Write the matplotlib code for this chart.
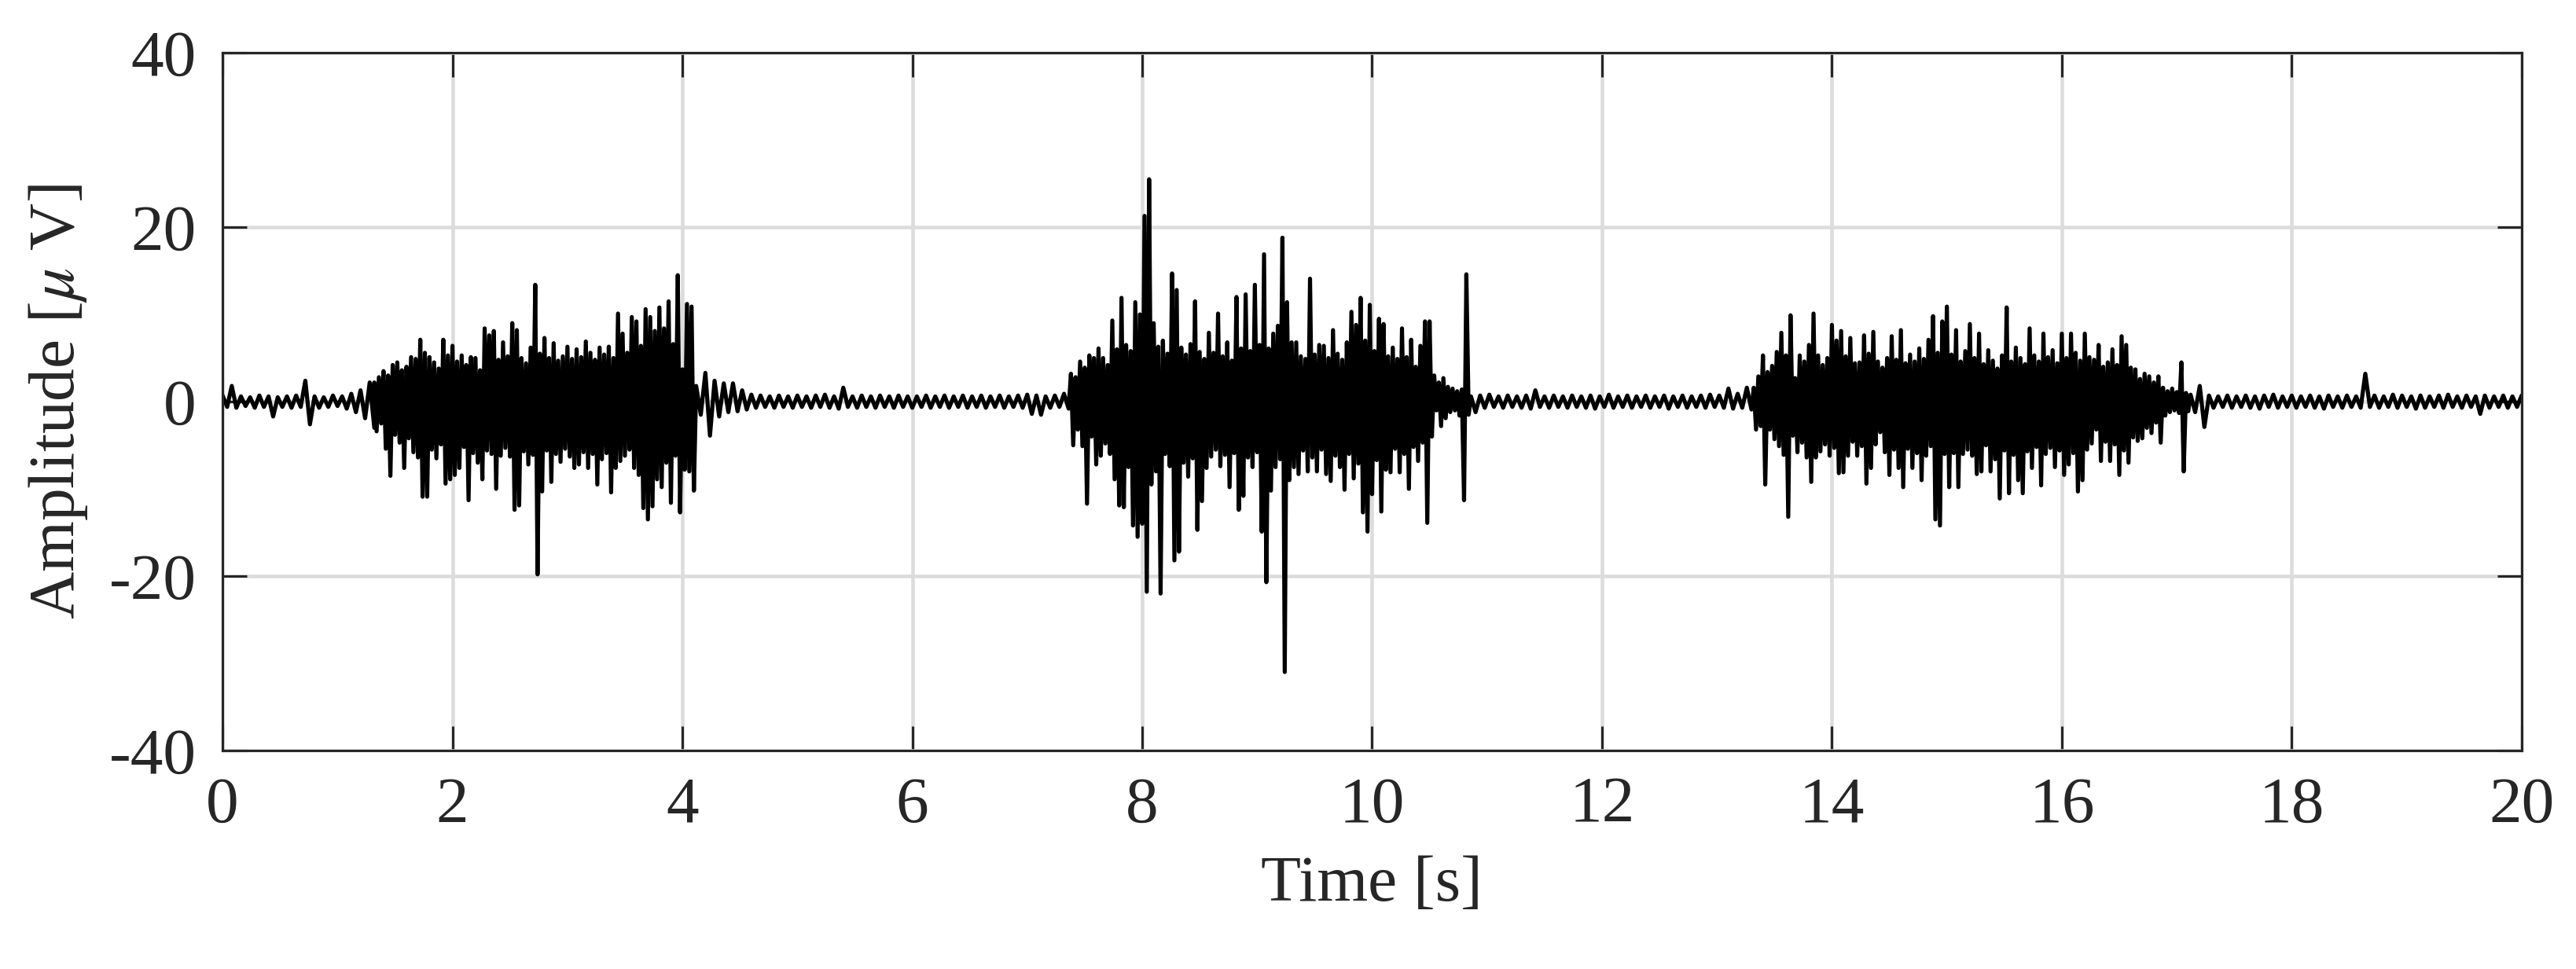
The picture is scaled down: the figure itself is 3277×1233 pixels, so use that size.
import numpy as np
import matplotlib
matplotlib.use('Agg')
from matplotlib import pyplot as plt

# Each segment: start time [s], sample step [s], upper peaks, lower peaks

# quiet 0 - 1.3 s
rest1_hi = [0.7, 1.8, 0.6, 0.5, 0.7, 0.6, 0.5, 0.6, 0.7, 2.4, 0.6, 0.5, 0.7, 0.6, 0.9, 1.3, 2.2]
rest1_lo = [-0.6, -0.7, -0.5, -0.7, -0.6, -1.7, -0.6, -0.7, -0.6, -2.6, -0.7, -0.6, -0.5, -0.8, -1.2, -1.9, -3.0]

# burst 1 (1.3 - 4.1 s)
burst1_hi = [2.2, 2.8, 3.5, 3.0, 4.2, 4.5, 3.6, 4.0, 5.1, 4.9, 7.1, 5.6, 5.1, 4.5, 3.8, 7.1, 5.3, 6.4,
             4.6, 5.3, 4.2, 5.1, 5.0, 3.6, 8.4, 7.6, 8.1, 4.8, 6.8, 5.2, 9.0, 8.2, 5.0, 4.4, 6.2, 13.4,
             5.5, 7.3, 5.0, 6.7, 4.7, 5.2, 6.3, 4.9, 6.0, 5.1, 6.9, 5.6, 4.8, 6.2, 5.4, 6.3, 5.0, 10.1,
             7.8, 5.6, 9.7, 9.2, 6.4, 10.6, 9.7, 8.1, 10.8, 8.4, 11.5, 6.6, 14.5, 3.7, 11.2, 10.9]
burst1_lo = [-3.4, -2.5, -5.4, -8.5, -3.8, -4.7, -7.6, -4.2, -5.8, -6.4, -10.9, -10.9, -5.5, -6.5, -4.9,
             -9.4, -8.9, -8.4, -7.6, -5.2, -11.3, -5.9, -7.0, -8.9, -5.6, -6.0, -10.0, -6.2, -5.3, -6.3,
             -12.4, -11.9, -5.7, -7.2, -6.1, -19.8, -10.3, -5.6, -9.2, -6.0, -6.9, -5.4, -6.3, -7.6, -7.2,
             -5.8, -7.6, -6.0, -9.5, -6.6, -5.9, -10.4, -7.6, -6.8, -6.2, -5.5, -7.6, -8.4, -12.2, -13.5,
             -12.0, -8.9, -9.8, -7.0, -11.6, -6.2, -12.7, -7.8, -8.0, -10.2]

# quiet 4.1 - 7.36 s
rest2_hi = [1.8, 3.3, 2.4, 2.1, 2.1, 1.3, 0.8, 0.7, 0.6, 0.7, 0.6, 0.7, 0.6, 0.7, 0.8, 0.6, 1.6, 0.6,
            0.7, 0.6, 0.7, 0.6, 0.7, 0.6, 0.6, 0.7, 0.6, 0.7, 0.6, 0.7, 0.6, 0.7, 0.6, 0.7, 0.6, 0.7,
            0.8, 0.7, 0.6, 0.7, 0.9]
rest2_lo = [-1.5, -3.9, -1.7, -1.2, -1.1, -0.9, -0.7, -0.6, -0.7, -0.6, -0.7, -0.6, -0.7, -0.6, -0.7,
            -0.8, -0.6, -0.7, -0.6, -0.7, -0.6, -0.7, -0.6, -0.7, -0.6, -0.7, -0.6, -0.7, -0.6, -0.7,
            -0.6, -0.7, -0.6, -0.7, -0.6, -0.7, -1.4, -1.5, -0.7, -0.6, -0.8]

# burst 2 (7.36 - 10.82 s)
burst2_hi = [3.2, 2.8, 4.6, 3.9, 5.3, 5.0, 6.1, 5.0, 4.2, 9.3, 6.0, 11.9, 6.5, 5.8, 11.4, 10.0, 21.3,
             25.5, 9.0, 6.3, 7.0, 5.5, 14.7, 12.8, 6.2, 5.4, 6.6, 11.5, 5.7, 4.9, 7.9, 5.6, 10.1, 5.2,
             6.8, 4.7, 12.0, 6.1, 12.3, 5.8, 13.4, 6.5, 16.9, 6.1, 7.8, 8.7, 18.8, 11.4, 6.8, 6.8, 5.2,
             4.9, 14.1, 5.4, 6.5, 6.4, 5.0, 8.2, 5.5, 4.8, 6.8, 10.3, 8.8, 11.9, 7.0, 11.1, 5.8, 9.5,
             8.9, 5.2, 6.2, 4.9, 8.4, 5.1, 7.1, 4.0, 6.4, 9.2, 9.2, 3.0, 2.2, 2.7, 1.7, 1.5, 1.2, 1.4,
             14.6]
burst2_lo = [-5.0, -3.2, -5.1, -11.7, -4.0, -7.2, -6.2, -4.8, -6.0, -8.9, -11.9, -12.1, -7.5, -14.2,
             -15.5, -14.0, -21.8, -9.5, -8.0, -22.0, -6.0, -7.4, -18.2, -17.2, -7.0, -8.6, -6.5, -14.7,
             -11.4, -7.6, -6.3, -5.5, -7.4, -6.1, -9.8, -5.9, -12.4, -10.8, -6.4, -7.5, -5.8, -14.9,
             -20.7, -10.2, -7.5, -6.6, -31.0, -9.0, -7.5, -8.3, -5.6, -8.0, -6.4, -8.0, -5.5, -8.3,
             -9.1, -6.2, -7.5, -10.1, -6.0, -8.8, -7.1, -12.7, -14.9, -10.6, -6.7, -12.6, -7.8, -8.1,
             -5.4, -8.1, -6.0, -10.0, -5.2, -6.8, -4.7, -13.9, -4.0, -1.0, -2.8, -1.9, -1.2, -1.0,
             -1.6, -11.3, -1.5]

# quiet 10.84 - 13.3 s
rest3_hi = [0.6, 0.7, 0.8, 0.6, 0.7, 0.6, 0.7, 1.3, 0.6, 0.7, 0.6, 0.7, 0.6, 0.7, 0.6, 0.8, 0.6, 0.7,
            0.6, 0.7, 0.6, 0.7, 0.6, 0.7, 0.6, 0.7, 0.8, 0.7, 1.5, 0.9, 1.6]
rest3_lo = [-1.2, -0.7, -0.6, -0.7, -0.6, -0.7, -0.8, -0.6, -0.7, -0.6, -0.7, -0.6, -0.7, -0.8, -0.6,
            -0.7, -0.6, -0.7, -0.6, -0.7, -0.6, -0.8, -0.6, -0.7, -0.6, -0.7, -0.6, -0.7, -0.8, -0.7,
            -0.9]

# burst 3 (13.32 - 17.1 s)
burst3_hi = [1.6, 2.9, 5.3, 3.4, 4.1, 5.7, 7.9, 5.3, 9.9, 2.7, 5.3, 4.6, 6.5, 10.1, 5.3, 4.2, 5.0, 8.8,
             7.0, 8.1, 5.2, 7.3, 4.4, 4.5, 7.6, 5.5, 8.0, 4.6, 3.9, 5.0, 7.5, 4.8, 8.2, 4.4, 5.4, 4.6,
             6.1, 4.9, 7.1, 9.8, 5.6, 9.2, 10.9, 5.4, 8.2, 4.6, 5.8, 8.9, 5.0, 7.8, 4.3, 5.9, 4.7, 3.8,
             5.3, 10.8, 4.6, 6.2, 5.0, 4.3, 8.4, 5.3, 4.6, 7.8, 5.1, 5.9, 4.4, 7.8, 5.0, 7.8, 5.6, 4.7,
             7.8, 5.1, 4.8, 6.5, 4.0, 4.5, 6.0, 4.2, 7.5, 6.5, 3.9, 3.7, 2.6, 3.2, 2.9, 2.2, 2.9, 1.6,
             1.2, 1.5, 1.1, 4.5, 1.0]
burst3_lo = [-3.2, -2.8, -9.5, -3.2, -4.3, -5.1, -6.1, -13.2, -3.9, -5.8, -4.7, -6.4, -9.2, -6.4, -5.7,
             -4.9, -6.2, -5.3, -8.2, -8.1, -6.2, -4.6, -6.2, -5.1, -9.4, -7.6, -4.9, -3.5, -5.8, -8.4,
             -5.5, -7.6, -9.8, -5.4, -7.6, -5.9, -9.0, -6.2, -5.1, -13.5, -14.2, -6.0, -9.8, -5.9,
             -9.8, -6.0, -5.5, -6.2, -8.3, -8.0, -5.0, -8.0, -6.6, -11.1, -5.6, -10.5, -6.1, -9.0,
             -10.5, -5.7, -7.6, -5.2, -9.6, -6.0, -5.3, -7.5, -5.6, -8.4, -7.2, -5.9, -10.3, -9.0,
             -5.5, -4.8, -3.2, -6.8, -4.6, -6.8, -4.9, -8.4, -5.6, -7.0, -4.1, -4.5, -4.2, -3.0, -3.6,
             -2.4, -4.7, -1.6, -1.2, -1.0, -1.3, -8.0, -1.1]

# quiet 17.12 - 20 s
rest4_hi = [0.8, 1.8, 0.7, 0.6, 0.7, 0.6, 0.7, 0.6, 0.7, 0.8, 0.6, 0.7, 0.6, 0.7, 0.6, 0.7, 0.6, 0.7,
            0.6, 3.2, 0.7, 0.6, 0.8, 0.7, 0.6, 0.7, 0.6, 0.7, 0.8, 0.6, 0.7, 0.6, 0.7, 0.6, 0.7, 0.6,
            0.7]
rest4_lo = [-1.2, -2.9, -0.7, -0.6, -0.7, -0.6, -0.7, -0.8, -0.6, -0.7, -0.6, -0.7, -0.6, -0.7, -0.8,
            -0.6, -0.7, -0.6, -0.7, -0.6, -0.7, -0.6, -0.7, -0.6, -0.8, -0.7, -0.6, -0.7, -0.6, -0.7,
            -0.6, -1.4, -0.7, -0.6, -0.7, -0.6, -0.7]

segments = [
    (0.00, 0.04, rest1_hi, rest1_lo),
    (1.32, 0.02, burst1_hi, burst1_lo),
    (4.12, 0.04, rest2_hi, rest2_lo),
    (7.38, 0.02, burst2_hi, burst2_lo),
    (10.86, 0.04, rest3_hi, rest3_lo),
    (13.32, 0.02, burst3_hi, burst3_lo),
    (17.12, 0.04, rest4_hi, rest4_lo),
]

t_all = []
y_all = []
for t0, dt, hi, lo in segments:
    n = min(len(hi), len(lo))
    y = np.empty(2 * n)
    y[0::2] = hi[:n]
    y[1::2] = lo[:n]
    t_all.append(t0 + dt * np.arange(2 * n))
    y_all.append(y)
t_all = np.concatenate(t_all)
y_all = np.concatenate(y_all)

plt.rcParams['font.family'] = ['Liberation Serif', 'DejaVu Serif']
plt.rcParams['mathtext.fontset'] = 'stix'
plt.rcParams['axes.unicode_minus'] = False
plt.rcParams['font.size'] = 20

dark = '#262626'

fig = plt.figure(figsize=(3277 / 300, 1233 / 300), dpi=300)
ax = fig.add_axes([0.0864, 0.2255, 0.8925, 0.7200])

ax.plot(t_all, y_all, '-', color='black', lw=1.25)

ax.set_xlim(0, 20)
ax.set_ylim(-40, 40)
ax.set_xticks(np.arange(0, 21, 2))
ax.set_yticks([-40, -20, 0, 20, 40])
ax.grid(True, color='#dcdcdc', lw=1.1)
ax.set_axisbelow(True)
ax.tick_params(direction='in', length=7.5, width=0.75, colors=dark,
               top=True, right=True, labelsize=20, pad=8)
for s in ax.spines.values():
    s.set_color(dark)
    s.set_linewidth(0.75)

ax.set_xlabel('Time [s]', color=dark, fontsize=20, labelpad=6)
ax.set_ylabel(r'Amplitude [$\mu$ V]', color=dark, fontsize=20, labelpad=6)

plt.savefig('out.png', dpi=300)
